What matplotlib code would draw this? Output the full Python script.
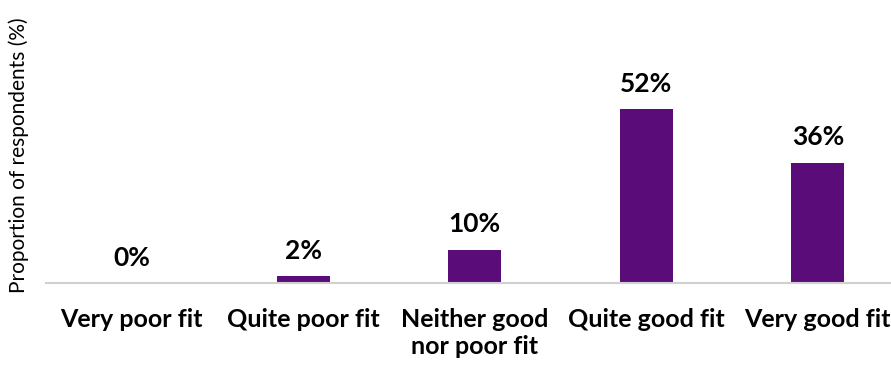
import numpy as np
import matplotlib.pyplot as plt

categories = ['Very poor fit', 'Quite poor fit', 'Neither good\nnor poor fit', 'Quite good fit', 'Very good fit']
values = [0, 2, 10, 52, 36]
value_labels = ['0%', '2%', '10%', '52%', '36%']

plt.rcParams['font.family'] = ['Lato', 'DejaVu Sans']

fig = plt.figure(figsize=(8.91, 3.65), dpi=100)
W, H = 891, 365
ax = fig.add_axes([46 / W, (H - 283) / H, (W - 46) / W, 273 / H])

x = np.arange(len(categories))
ax.bar(x, values, width=53 / 171.5, color='#5a0c78')
for xi, v, lab in zip(x, values, value_labels):
    ax.text(xi, v + 4.0, lab, ha='center', va='bottom', fontsize=19, fontweight='bold')

ax.set_xlim(-0.5, -0.5 + (W - 46) / 171.5)
ax.set_ylim(0, 273 / 3.346)
ax.set_xticks(x)
ax.set_xticklabels(categories, fontsize=18, fontweight='bold', linespacing=1.2)
ax.tick_params(axis='x', length=0, pad=18)
ax.set_yticks([])
for s in ['top', 'right', 'left']:
    ax.spines[s].set_visible(False)
ax.spines['bottom'].set_color('#d0d0d0')
ax.spines['bottom'].set_linewidth(1.5)
ax.set_ylabel('Proportion of respondents (%)', fontsize=15)
ax.yaxis.set_label_coords(-17 / 845, 0.5 - 9 / 273)

fig.savefig('out.png', dpi=100)
